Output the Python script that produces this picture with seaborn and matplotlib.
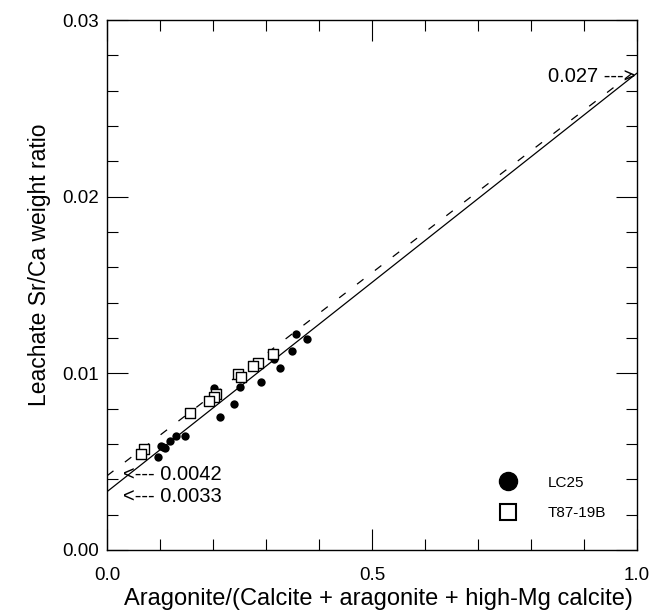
import matplotlib
matplotlib.use("Agg")
import matplotlib.pyplot as plt
from matplotlib.lines import Line2D
from matplotlib.ticker import MultipleLocator
import numpy as np
import pandas as pd
import seaborn as sns

# LC25 (filled circles)
lc25_x = [0.357, 0.377, 0.349, 0.316, 0.327, 0.290, 0.251, 0.201, 0.239, 0.214,
          0.147, 0.130, 0.118, 0.101, 0.110, 0.106, 0.097]
lc25_y = [0.01221, 0.01194, 0.01125, 0.01083, 0.01032, 0.00953, 0.00921, 0.00919,
          0.00828, 0.00755, 0.00645, 0.00647, 0.00615, 0.00590, 0.00575, 0.00585, 0.00528]
# T87-19B (open squares)
t87_x = [0.314, 0.284, 0.275, 0.247, 0.252, 0.205, 0.201, 0.193, 0.157, 0.070, 0.065]
t87_y = [0.01108, 0.01057, 0.01040, 0.00994, 0.00977, 0.00881, 0.00864, 0.00843,
         0.00774, 0.00572, 0.00545]

# regression lines (endpoints at x=0 and x=1)
line_x = [0.0, 1.0]
solid_y = [0.0033, 0.0270]
dashed_y = [0.0042, 0.0272]

sns.set_style("ticks")
plt.rcParams["font.family"] = ["Liberation Sans", "DejaVu Sans"]
plt.rcParams["text.color"] = "black"
plt.rcParams["axes.labelcolor"] = "black"
plt.rcParams["xtick.color"] = "black"
plt.rcParams["ytick.color"] = "black"

fig = plt.figure(figsize=(6.51, 6.10), dpi=100)
ax = fig.add_axes([0.1644, 0.0984, 0.8141, 0.8686])

df_lc = pd.DataFrame({"x": lc25_x, "y": lc25_y})
df_t = pd.DataFrame({"x": t87_x, "y": t87_y})
df_line = pd.DataFrame({"x": line_x, "solid": solid_y, "dashed": dashed_y})

sns.lineplot(data=df_line, x="x", y="solid", ax=ax, color="black", lw=0.9)
sns.lineplot(data=df_line, x="x", y="dashed", ax=ax, color="black", lw=0.9,
             linestyle=(0, (6.5, 11.5)))
sns.scatterplot(data=df_lc, x="x", y="y", ax=ax, marker="o", s=36, color="black",
                edgecolor="black", linewidth=0, zorder=3)
sns.scatterplot(data=df_t, x="x", y="y", ax=ax, marker="s", s=42, facecolor="white",
                edgecolor="black", linewidth=1.0, zorder=4)

ax.set_xlim(0, 1.0)
ax.set_ylim(0, 0.03)
ax.xaxis.set_major_locator(MultipleLocator(0.5))
ax.xaxis.set_minor_locator(MultipleLocator(0.1))
ax.yaxis.set_major_locator(MultipleLocator(0.01))
ax.yaxis.set_minor_locator(MultipleLocator(0.002))
ax.set_xticks([0.0, 0.5, 1.0])
ax.set_xticklabels(["0.0", "0.5", "1.0"])
ax.set_yticks([0.0, 0.01, 0.02, 0.03])
ax.set_yticklabels(["0.00", "0.01", "0.02", "0.03"])
ax.tick_params(which="both", direction="in", top=True, right=True, labelsize=13.5,
               width=0.8, color="black")
ax.tick_params(which="major", length=15)
ax.tick_params(which="minor", length=8)
ax.tick_params(axis="x", which="major", pad=12)
ax.tick_params(axis="y", which="major", pad=6)
for sp in ax.spines.values():
    sp.set_linewidth(1.0)
    sp.set_color("black")

ax.set_xlabel("Aragonite/(Calcite + aragonite + high-Mg calcite)", fontsize=17)
ax.xaxis.set_label_coords(0.513, -0.072, transform=ax.transAxes)
ax.set_ylabel("Leachate Sr/Ca weight ratio", fontsize=16.5)
ax.yaxis.set_label_coords(-0.106, 0.538, transform=ax.transAxes)

ax.text(0.03, 0.0043, "<--- 0.0042", fontsize=14.5, va="center", ha="left")
ax.text(0.03, 0.0030, "<--- 0.0033", fontsize=14.5, va="center", ha="left")
ax.text(0.997, 0.0268, "0.027 --->", fontsize=14.5, va="center", ha="right")

handles = [
    Line2D([], [], marker="o", color="black", markersize=13, linestyle="none",
           markerfacecolor="black"),
    Line2D([], [], marker="s", color="black", markersize=12, linestyle="none",
           markerfacecolor="white", markeredgewidth=1.5),
]
ax.legend(handles, ["LC25", "T87-19B"], loc="lower right", bbox_to_anchor=(0.967, 0.03),
          frameon=False, fontsize=11, handletextpad=1.6, labelspacing=1.1)

fig.savefig("out.png", dpi=100)
